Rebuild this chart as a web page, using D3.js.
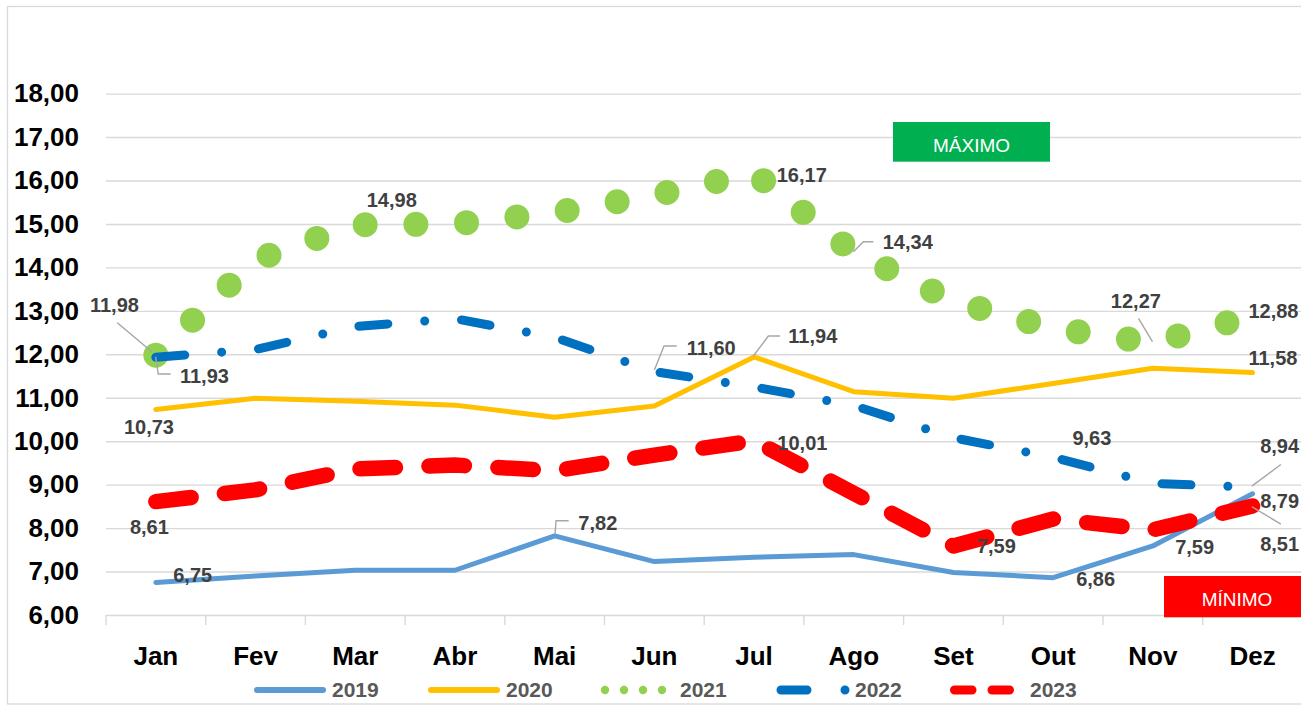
<!DOCTYPE html>
<html>
<head>
<meta charset="utf-8">
<script src="https://cdn.jsdelivr.net/npm/d3@7"></script>
<style>
  html, body { margin: 0; padding: 0; background: #fff; }
  svg { display: block; }
  text { font-family: "Liberation Sans", Arial, sans-serif; }
</style>
</head>
<body>
<svg id="chart" width="1301" height="705"></svg>
<script>
// ---------------- DATA ----------------
const months = ["Jan","Fev","Mar","Abr","Mai","Jun","Jul","Ago","Set","Out","Nov","Dez"];
const years = ["2019","2020","2021","2022","2023"];
const v2019 = [6.75, 6.90, 7.03, 7.03, 7.82, 7.23, 7.33, 7.39, 6.98, 6.86, 7.59, 8.79];
const v2020 = [10.73, 10.99, 10.92, 10.83, 10.55, 10.81, 11.94, 11.14, 10.99, 11.33, 11.68, 11.58];
const v2021 = [11.98, 14.17, 14.98, 15.00, 15.26, 15.66, 16.17, 14.34, 13.22, 12.60, 12.27, 12.88];
const v2022 = [11.93, 12.11, 12.64, 12.82, 12.39, 11.60, 11.25, 10.82, 10.08, 9.63, 9.03, 8.94];
const v2023 = [8.61, 8.88, 9.36, 9.45, 9.32, 9.68, 10.01, 8.80, 7.59, 8.21, 7.96, 8.51];
const yTicks = [6, 7, 8, 9, 10, 11, 12, 13, 14, 15, 16, 17, 18];
const seriesValues = [v2019, v2020, v2021, v2022, v2023];
// which points carry a data label (year, month index)
const labelPoints = [
  ["2019",0],["2019",4],["2019",9],["2019",10],["2019",11],
  ["2020",0],["2020",6],["2020",11],
  ["2021",0],["2021",2],["2021",6],["2021",7],["2021",10],["2021",11],
  ["2022",0],["2022",5],["2022",9],["2022",11],
  ["2023",0],["2023",6],["2023",8],["2023",11]
];
const boxTexts = ["MÁXIMO", "MÍNIMO"];

// ---------------- STYLE / LAYOUT ----------------
const colors = {"2019":"#5B9BD5","2020":"#FFC000","2021":"#92D050","2022":"#0070C0","2023":"#FF0000"};
const lineStyle = {
  "2019": {w:5, dash:null},
  "2020": {w:5, dash:null},
  "2021": {w:25, dash:"0 50.7"},
  "2022": {w:9, dash:"29 37 0 37"},
  "2023": {w:15.5, dash:"35.5 33.5"}
};
// label placement: offset of text start / vertical center from point, optional leader
const labelPlace = {
  "2019-0":{dx:17.4,dy:-8.1}, "2019-4":{dx:23.7,dy:-13.2,lead:[[0.4,-2],[1.4,-15.2],[14,-15.2]]},
  "2019-9":{dx:23,dy:0.7}, "2019-10":{dx:22.3,dy:0.8}, "2019-11":{dx:7.6,dy:6.9},
  "2020-0":{dx:-31.9,dy:17.2}, "2020-6":{dx:34.3,dy:-21.1,lead:[[-0.7,-0.9],[14.3,-20.9],[26,-20.9]]},
  "2020-11":{dx:-4.1,dy:-14.7},
  "2021-0":{dx:-65.9,dy:-50.2,lead:[[-38.6,-32.5],[-4,-3.5]]}, "2021-2":{dx:11.5,dy:-24.8},
  "2021-6":{dx:22.7,dy:1.6}, "2021-7":{dx:29,dy:-10.9,lead:[[-0.4,-0.9],[9.6,-10.9],[19.6,-10.9]]},
  "2021-10":{dx:-42,dy:-42.1,lead:[[-14.4,-24.3],[-0.4,-0.9]]}, "2021-11":{dx:-4.1,dy:-5.5},
  "2022-0":{dx:24.1,dy:18.7,lead:[[-0.2,-0.6],[2.4,16.7],[14.8,16.7]]},
  "2022-5":{dx:32.4,dy:-24.2,lead:[[0,-1.7],[9.7,-25.7],[22.4,-25.7]]},
  "2022-9":{dx:19.3,dy:-19.8}, "2022-11":{dx:7.6,dy:-41.1,lead:[[-0.7,-1.1],[28.3,-22.8]]},
  "2023-0":{dx:-25.9,dy:25.1}, "2023-6":{dx:23.3,dy:1.7}, "2023-8":{dx:23.4,dy:-0.1},
  "2023-11":{dx:7.6,dy:38.1,lead:[[-0.7,0.8],[28.3,18.1]]}
};

const svg = d3.select("#chart");
const plotL = 106, plotR = 1302.4, plotT = 93.6, plotB = 615;
const gridColor = "#D9D9D9";

const xBand = d3.scaleBand().domain(months).range([plotL, plotR]);
const x = d3.scalePoint().domain(months).range([plotL, plotR]).padding(0.5);
const y = d3.scaleLinear().domain([6, 18]).range([plotB, plotT]);
const fmt = d3.formatLocale({decimal: ",", thousands: ".", grouping: [3], currency: ["R$", ""]}).format(".2f");

// chart border
svg.append("rect").attr("x", 7.5).attr("y", 6.5).attr("width", 1300).attr("height", 697.5)
  .attr("fill", "none").attr("stroke", gridColor).attr("stroke-width", 1.3);

// y axis with gridlines
const yAxis = svg.append("g").attr("transform", `translate(${plotL},0)`)
  .call(d3.axisLeft(y).tickValues(yTicks).tickSize(-(plotR - plotL)).tickPadding(27).tickFormat(d => fmt(d)));
yAxis.select(".domain").remove();
yAxis.selectAll(".tick line").attr("stroke", gridColor).attr("stroke-width", 1.4);
yAxis.selectAll(".tick text").attr("fill", "#000").attr("font-size", 26).attr("font-weight", "bold")
  .attr("font-family", "'Liberation Sans', Arial, sans-serif");

// x axis: labels
const xAxis = svg.append("g").attr("transform", `translate(0,${plotB})`)
  .call(d3.axisBottom(xBand).tickSize(0).tickPadding(31.5));
xAxis.select(".domain").remove();
xAxis.selectAll(".tick text").attr("fill", "#000").attr("font-size", 26).attr("font-weight", "bold")
  .attr("font-family", "'Liberation Sans', Arial, sans-serif");
// x axis: tick marks at category boundaries
svg.append("g").selectAll("line").data(months).join("line")
  .attr("x1", d => xBand(d)).attr("x2", d => xBand(d))
  .attr("y1", plotB).attr("y2", plotB + 10)
  .attr("stroke", gridColor).attr("stroke-width", 1.4);

// series lines
const line = d3.line().x((d, i) => x(months[i])).y(d => y(d));
years.forEach((yr, k) => {
  const st = lineStyle[yr];
  const p = svg.append("path").datum(seriesValues[k])
    .attr("d", line).attr("fill", "none")
    .attr("stroke", colors[yr]).attr("stroke-width", st.w)
    .attr("stroke-linecap", "round").attr("stroke-linejoin", "round");
  if (st.dash) p.attr("stroke-dasharray", st.dash);
});

// data labels + leaders
const labG = svg.append("g");
labelPoints.forEach(([yr, i]) => {
  const v = seriesValues[years.indexOf(yr)][i];
  const px = x(months[i]), py = y(v);
  const pl = labelPlace[yr + "-" + i];
  if (pl.lead) {
    labG.append("polyline")
      .attr("points", pl.lead.map(p => [px + p[0], py + p[1]].join(",")).join(" "))
      .attr("fill", "none").attr("stroke", "#A6A6A6").attr("stroke-width", 1.4);
  }
  labG.append("text")
    .attr("x", px + pl.dx).attr("y", py + pl.dy + 7.2)
    .attr("font-size", 20).attr("font-weight", "bold").attr("fill", "#404040")
    .text(fmt(v));
});

// MÁXIMO / MÍNIMO boxes
const boxes = [
  {t: boxTexts[0], x: 893, y: 122, w: 157, h: 39.7, c: "#00B050", tx: 971.5, ty: 151.7},
  {t: boxTexts[1], x: 1164, y: 576, w: 157, h: 41.3, c: "#FF0000", tx: 1237, ty: 606}
];
boxes.forEach(b => {
  svg.append("rect").attr("x", b.x).attr("y", b.y).attr("width", b.w).attr("height", b.h).attr("fill", b.c);
  svg.append("text").attr("x", b.tx).attr("y", b.ty).attr("text-anchor", "middle")
    .attr("font-size", 19).attr("fill", "#fff").text(b.t);
});

// legend
const legY = 690;
const legend = [
  {yr:"2019", x1:257, x2:323, w:6, dash:null, tx:332},
  {yr:"2020", x1:431, x2:497, w:6, dash:null, tx:506},
  {yr:"2021", x1:605, x2:662.5, w:8.4, dash:"0 19", tx:680},
  {yr:"2022", x1:781, x2:845.5, w:9, dash:"26 38 0 100", tx:855},
  {yr:"2023", x1:954.5, x2:1010, w:9, dash:"17.5 20", tx:1030}
];
legend.forEach(l => {
  const p = svg.append("line").attr("x1", l.x1).attr("x2", l.x2).attr("y1", legY).attr("y2", legY)
    .attr("stroke", colors[l.yr]).attr("stroke-width", l.w).attr("stroke-linecap", "round");
  if (l.dash) p.attr("stroke-dasharray", l.dash);
  svg.append("text").attr("x", l.tx).attr("y", 697).attr("font-size", 21).attr("font-weight", "bold")
    .attr("fill", "#595959").text(l.yr);
});
</script>
</body>
</html>
